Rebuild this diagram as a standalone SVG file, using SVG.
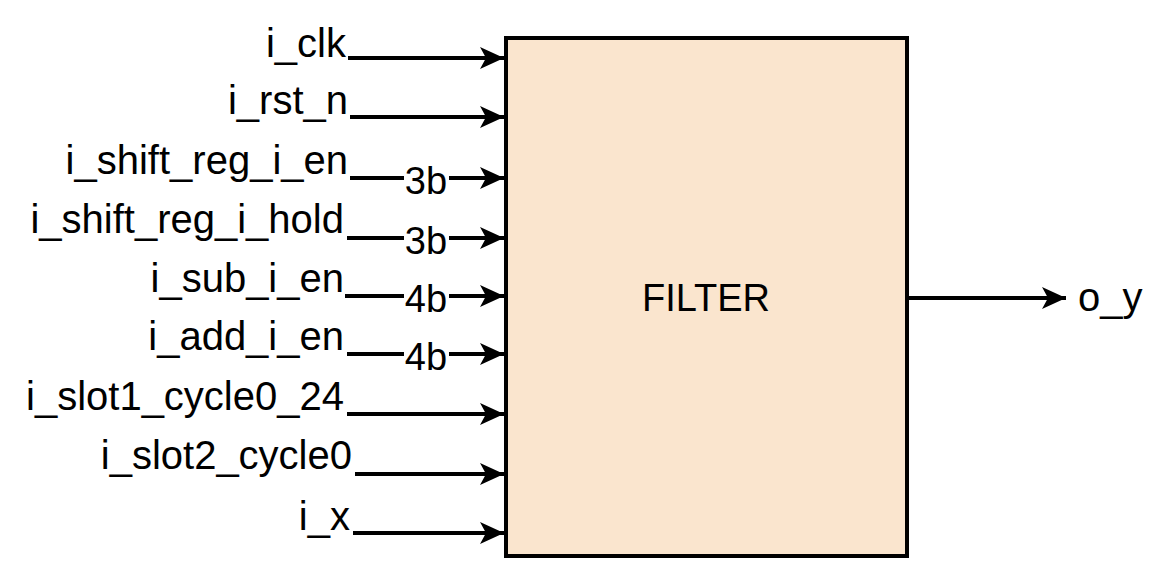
<svg xmlns="http://www.w3.org/2000/svg" width="1172" height="582" viewBox="0 0 1172 582">
<style>
.lbl{font-family:"Liberation Sans",Arial,sans-serif;font-size:40px;fill:#000;text-anchor:end}
.w{font-family:"Liberation Sans",Arial,sans-serif;font-size:38px;fill:#000;text-anchor:middle;dominant-baseline:central}
.ln{stroke:#000;stroke-width:4;fill:none}
.wb{fill:#fff}
</style>
<defs>
<marker id="arr" viewBox="0 0 24 22" refX="24" refY="11" markerWidth="24" markerHeight="22" markerUnits="userSpaceOnUse" orient="auto">
<path d="M0,0 L24,11 L0,22 L6,11 Z" fill="#000"/>
</marker>
</defs>
<rect width="1172" height="582" fill="#fff"/>
<g id="filter">
<rect x="506" y="38" width="401" height="518" fill="#FAE5CE" stroke="#000" stroke-width="4"/>
<text x="706" y="311" font-family="Liberation Sans, Arial, sans-serif" font-size="38" text-anchor="middle">FILTER</text>
</g>
<g id="connectors">
<line class="ln" x1="348" y1="58" x2="504" y2="58" marker-end="url(#arr)"/>
<line class="ln" x1="350" y1="117" x2="504" y2="117" marker-end="url(#arr)"/>
<line class="ln" x1="350" y1="178" x2="504" y2="178" marker-end="url(#arr)"/>
<line class="ln" x1="347" y1="238" x2="504" y2="238" marker-end="url(#arr)"/>
<line class="ln" x1="345" y1="296" x2="504" y2="296" marker-end="url(#arr)"/>
<line class="ln" x1="347" y1="354" x2="504" y2="354" marker-end="url(#arr)"/>
<line class="ln" x1="347" y1="414" x2="504" y2="414" marker-end="url(#arr)"/>
<line class="ln" x1="355" y1="474" x2="504" y2="474" marker-end="url(#arr)"/>
<line class="ln" x1="353" y1="533" x2="504" y2="533" marker-end="url(#arr)"/>
<line class="ln" x1="908" y1="298" x2="1066" y2="298" marker-end="url(#arr)"/>
<rect class="wb" x="404" y="164" width="45" height="28"/>
<text class="w" x="426" y="181">3b</text>
<rect class="wb" x="404" y="224" width="45" height="28"/>
<text class="w" x="426" y="241">3b</text>
<rect class="wb" x="404" y="282" width="45" height="28"/>
<text class="w" x="426" y="299">4b</text>
<rect class="wb" x="404" y="340" width="45" height="28"/>
<text class="w" x="426" y="357">4b</text>
</g>
<g id="in_clk"><text class="lbl" x="346" y="57">i_clk</text></g>
<g id="in_rst"><text class="lbl" x="348" y="114">i_rst_n</text></g>
<g id="in_shift_en"><text class="lbl" x="348" y="174">i_shift_reg_i_en</text></g>
<g id="in_shift_hold"><text class="lbl" x="344" y="233">i_shift_reg_i_hold</text></g>
<g id="in_sub"><text class="lbl" x="344" y="292">i_sub_i_en</text></g>
<g id="in_add"><text class="lbl" x="344" y="350">i_add_i_en</text></g>
<g id="in_slot1"><text class="lbl" x="344" y="410">i_slot1_cycle0_24</text></g>
<g id="in_slot2"><text class="lbl" x="352" y="469">i_slot2_cycle0</text></g>
<g id="in_x"><text class="lbl" x="350" y="530">i_x</text></g>
<g id="out_y"><text x="1078" y="311" font-family="Liberation Sans, Arial, sans-serif" font-size="40">o_y</text></g>
</svg>
